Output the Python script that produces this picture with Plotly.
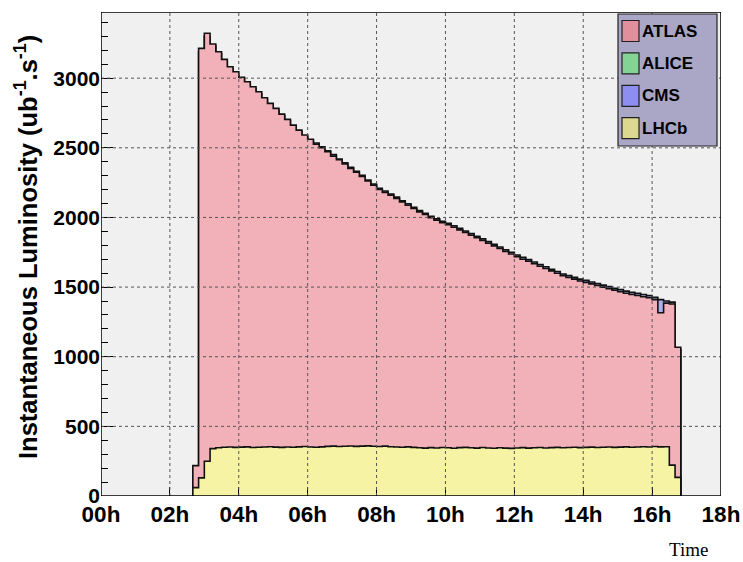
import plotly.graph_objects as go

# ---------------- data ----------------
bin_start_min = 160      # first bin starts at 02:40
bin_width_min = 10       # 10-minute bins

atlas = [218, 3214, 3322, 3245, 3190, 3135, 3082, 3046, 3006, 2974,
         2938, 2902, 2859, 2819, 2783, 2742, 2704, 2663, 2627, 2592,
         2561, 2526, 2501, 2472, 2440, 2414, 2384, 2352, 2325, 2294,
         2262, 2232, 2201, 2180, 2160, 2136, 2112, 2088, 2064, 2040,
         2022, 1999, 1981, 1962, 1947, 1930, 1911, 1893, 1872, 1855,
         1834, 1815, 1796, 1777, 1756, 1738, 1719, 1700, 1685, 1668,
         1650, 1633, 1616, 1599, 1582, 1569, 1557, 1544, 1534, 1523,
         1512, 1500, 1489, 1478, 1467, 1456, 1447, 1440, 1431, 1424,
         1410, 1316, 1385, 1378, 1068]

cms = [195, 3190, 3300, 3230, 3176, 3120, 3068, 3030, 2990, 2960,
       2925, 2888, 2845, 2806, 2770, 2730, 2692, 2652, 2616, 2582,
       2552, 2534, 2508, 2478, 2452, 2420, 2392, 2360, 2331, 2303,
       2268, 2240, 2209, 2190, 2168, 2146, 2120, 2098, 2072, 2050,
       2030, 2009, 1990, 1972, 1958, 1940, 1922, 1903, 1884, 1865,
       1846, 1826, 1808, 1788, 1768, 1750, 1730, 1713, 1697, 1680,
       1662, 1646, 1628, 1612, 1594, 1582, 1570, 1557, 1548, 1536,
       1526, 1514, 1503, 1492, 1482, 1471, 1462, 1455, 1447, 1440,
       1426, 1410, 1400, 1392, 1050]

alice = [0, 0, 0, 0, 0, 0, 0, 0, 0, 0,
         0, 0, 0, 0, 0, 0, 0, 0, 0, 0,
         0, 0, 0, 0, 0, 0, 0, 0, 0, 0,
         0, 0, 0, 0, 0, 0, 0, 0, 0, 0,
         0, 0, 0, 0, 0, 0, 0, 0, 0, 0,
         0, 0, 0, 12, 0, 0, 0, 0, 0, 0,
         0, 0, 0, 0, 0, 0, 0, 0, 0, 0,
         0, 0, 0, 0, 0, 0, 0, 0, 0, 0,
         0, 0, 0, 0, 0]

lhcb = [60, 130, 250, 340, 346, 350, 352, 349, 351, 353,
        348, 350, 352, 354, 351, 349, 352, 350, 353, 355,
        352, 350, 353, 356, 358, 355, 357, 359, 356, 358,
        360, 357, 355, 358, 354, 352, 350, 353, 349, 346,
        344, 347, 345, 348, 346, 343, 347, 349, 346, 344,
        348, 345, 343, 346, 344, 342, 345, 347, 344, 346,
        348, 345, 347, 349, 346, 348, 350, 347, 349, 351,
        348, 350, 352, 349, 351, 353, 350, 352, 354, 352,
        355, 353, 354, 222, 134]

tick_vals = [0, 2, 4, 6, 8, 10, 12, 14, 16, 18]
tick_text = ["00h", "02h", "04h", "06h", "08h", "10h", "12h", "14h", "16h", "18h"]
y_ticks = [0, 500, 1000, 1500, 2000, 2500, 3000]
series_names = ["ATLAS", "ALICE", "CMS", "LHCb"]

# ---------------- helpers ----------------
Y_MAX = 3475
X_MIN, X_MAX = 0, 18
PLOT_L, PLOT_W = 101, 620
PLOT_T, PLOT_H = 12, 484
FONT = "Liberation Sans, Arial, sans-serif"


def edges(n):
    return [(bin_start_min + bin_width_min * i) / 60.0 for i in range(n + 1)]


def step_xy(vals):
    e = edges(len(vals))
    xs, ys = [e[0]], [0]
    for i, v in enumerate(vals):
        xs.append(e[i]); ys.append(v)
    xs.append(e[-1]); ys.append(vals[-1])
    xs.append(e[-1]); ys.append(0)
    return xs, ys


def px(xpx):
    return (xpx - PLOT_L) / PLOT_W


def py(ypx):
    return (PLOT_T + PLOT_H - ypx) / PLOT_H


colors = {"ATLAS": "#f2b0b8", "ALICE": "#96dca4", "CMS": "#aeaeee", "LHCb": "#f6f3a4"}
legend_box_colors = {"ATLAS": "#e0909c", "ALICE": "#84d394", "CMS": "#8e8ef0", "LHCb": "#dcd890"}

fig = go.Figure()
for name, vals in [("CMS", cms), ("ATLAS", atlas), ("ALICE", alice), ("LHCb", lhcb)]:
    xs, ys = step_xy(vals)
    fig.add_trace(go.Scatter(
        x=xs, y=ys, mode="lines", line=dict(shape="hv", color="#111111", width=1.6),
        fill="tozeroy", fillcolor=colors[name], name=name, showlegend=False,
        hoverinfo="skip"))

shapes = []
# grid (drawn above traces, as in the reference)
for xv in tick_vals[1:-1]:
    shapes.append(dict(type="line", xref="x", yref="y", x0=xv, x1=xv, y0=0, y1=Y_MAX,
                       line=dict(color="#555555", width=1, dash="dot"), layer="above"))
for yv in y_ticks[1:]:
    shapes.append(dict(type="line", xref="x", yref="y", x0=X_MIN, x1=X_MAX, y0=yv, y1=yv,
                       line=dict(color="#555555", width=1, dash="dot"), layer="above"))
# frame
shapes.append(dict(type="rect", xref="x", yref="y", x0=X_MIN, x1=X_MAX, y0=0, y1=Y_MAX,
                   line=dict(color="black", width=1.5), layer="above"))

# legend box
shapes.append(dict(type="rect", xref="paper", yref="paper",
                   x0=px(618), x1=px(717), y0=py(146), y1=py(14),
                   fillcolor="#aaa6c5", line=dict(color="#222222", width=1.2), layer="above"))
annotations = []
for i, name in enumerate(series_names):
    yc = 31 + i * 32.4
    shapes.append(dict(type="rect", xref="paper", yref="paper",
                       x0=px(622), x1=px(639), y0=py(yc + 10.5), y1=py(yc - 10.5),
                       fillcolor=legend_box_colors[name], line=dict(color="#222222", width=1.2),
                       layer="above"))
    annotations.append(dict(x=px(640), y=py(yc), xref="paper", yref="paper", text=name,
                            showarrow=False, xanchor="left", yanchor="middle",
                            font=dict(family=FONT, size=17, color="black", weight="bold")))

annotations.append(dict(x=px(26), y=py(247), xref="paper", yref="paper",
                        text="Instantaneous Luminosity (ub<sup>-1</sup>.s<sup>-1</sup>)",
                        textangle=-90, showarrow=False, xanchor="center", yanchor="middle",
                        font=dict(family=FONT, size=25.5, color="black", weight="bold")))
annotations.append(dict(x=px(688), y=py(549), xref="paper", yref="paper", text="Time",
                        showarrow=False, xanchor="center", yanchor="middle",
                        font=dict(family="Liberation Serif, Times New Roman, serif", size=19,
                                  color="black")))

fig.update_layout(
    width=743, height=562,
    margin=dict(l=PLOT_L, r=743 - PLOT_L - PLOT_W, t=PLOT_T, b=562 - PLOT_T - PLOT_H,
                autoexpand=False),
    paper_bgcolor="white", plot_bgcolor="#f0f0f0",
    shapes=shapes, annotations=annotations, showlegend=False,
    xaxis=dict(range=[X_MIN, X_MAX], tickvals=tick_vals, ticktext=tick_text,
               showgrid=False, zeroline=False, showline=False, automargin=False,
               ticks="inside", ticklen=9, tickwidth=1, tickcolor="black",
               layer="above traces", ticklabelstandoff=2,
               tickfont=dict(family=FONT, size=22.5, color="black", weight="bold")),
    yaxis=dict(range=[0, Y_MAX], tickvals=y_ticks,
               showgrid=False, zeroline=False, showline=False, automargin=False,
               ticks="inside", ticklen=12, tickwidth=1, tickcolor="black",
               layer="above traces",
               minor=dict(ticks="inside", dtick=100, ticklen=7, tickcolor="black", showgrid=False),
               tickfont=dict(family=FONT, size=21, color="black", weight="bold")),
)

fig.write_html("out.html", config={"displayModeBar": False, "staticPlot": True},
               post_script="document.body.style.margin='0';")
